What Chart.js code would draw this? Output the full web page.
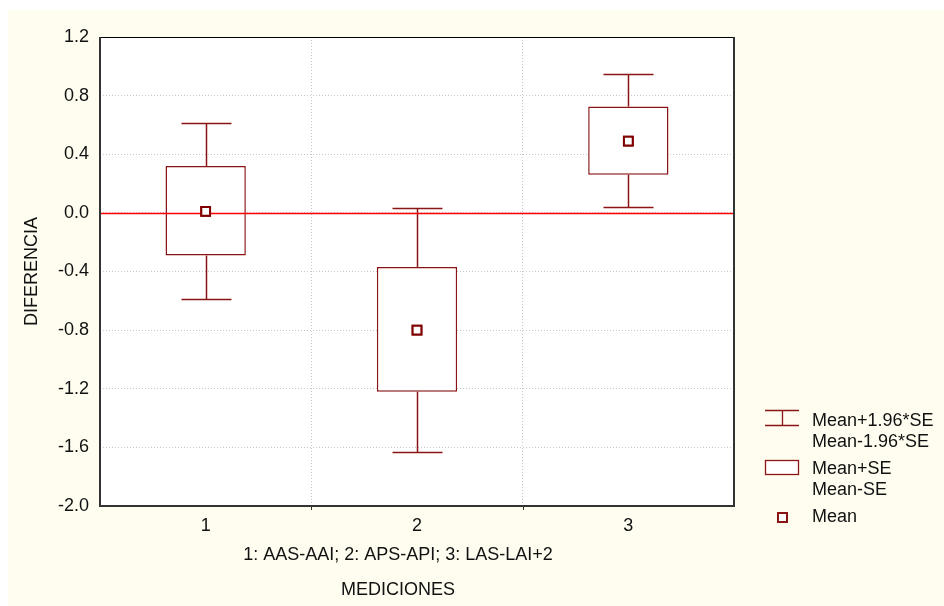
<!DOCTYPE html>
<html>
<head>
<meta charset="utf-8">
<script src="https://cdn.jsdelivr.net/npm/chart.js@4/dist/chart.umd.min.js"></script>
<style>
  html,body{margin:0;padding:0;background:#fff}
  #wrap{position:relative;width:944px;height:606px}
</style>
</head>
<body>
<div id="wrap"><canvas id="chart" width="944" height="606"></canvas></div>
<script>
// data
const categories = ['1', '2', '3'];
const means      = [0.01, -0.80, 0.49];
const seHigh     = [0.32, -0.37, 0.725];
const seLow      = [-0.29, -1.22, 0.26];
const ciHigh     = [0.61, 0.035, 0.95];
const ciLow      = [-0.585, -1.63, 0.04];
const yTicks     = [-2.0, -1.6, -1.2, -0.8, -0.4, 0.0, 0.4, 0.8, 1.2];
const legendText = [['Mean+1.96*SE', 'Mean-1.96*SE'], ['Mean+SE', 'Mean-SE'], ['Mean']];
const xTitle     = ['1: AAS-AAI; 2: APS-API; 3: LAS-LAI+2', 'MEDICIONES'];
const yTitle     = 'DIFERENCIA';

const RED = '#8b1515';
const FONT = '"Liberation Sans", Arial, sans-serif';

function zeroLine(chart) {
  const c = chart.ctx, a = chart.chartArea;
  const y0 = Math.round(chart.scales.y.getPixelForValue(0)) + 0.5;
  c.save();
  c.setLineDash([]);
  c.globalAlpha = 1;
  c.strokeStyle = '#ff0000';
  c.lineWidth = 1.5;
  c.beginPath(); c.moveTo(a.left, y0); c.lineTo(a.right, y0); c.stroke();
  c.restore();
}

const decor = {
  id: 'decor',
  beforeDraw(chart) {
    const c = chart.ctx;
    c.save();
    c.fillStyle = '#fffdf0';
    c.fillRect(8, 10, 936, 596);
    const a = chart.chartArea;
    c.fillStyle = '#fff';
    c.fillRect(a.left, a.top, a.right - a.left, a.bottom - a.top);
    c.restore();
  },
  beforeDatasetsDraw(chart) {
    // whiskers
    const c = chart.ctx, xs = chart.scales.x, ys = chart.scales.y;
    c.save();
    c.strokeStyle = RED;
    c.lineWidth = 1.5;
    categories.forEach((cat, i) => {
      const x = Math.round(xs.getPixelForValue(i)) + 0.5;
      const half = 25;
      const pts = [[ciHigh[i], seHigh[i]], [ciLow[i], seLow[i]]];
      pts.forEach(([end, start]) => {
        const ye = Math.round(ys.getPixelForValue(end)) + 0.5;
        const yb = ys.getPixelForValue(start);
        c.beginPath();
        c.moveTo(x, yb); c.lineTo(x, ye);
        c.moveTo(x - half, ye); c.lineTo(x + half, ye);
        c.stroke();
      });
    });
    c.restore();
  },
  afterDraw(chart) {
    const c = chart.ctx, a = chart.chartArea, xs = chart.scales.x;
    // zero reference line, then the means again so they sit on top
    zeroLine(chart);
    const pts = chart.getDatasetMeta(1).data;
    pts.forEach(p => p.draw(c, a));
    c.save();
    // frame
    c.strokeStyle = '#000';
    c.lineWidth = 1;
    c.strokeRect(a.left + 0.5, a.top + 0.5, a.right - a.left - 1, a.bottom - a.top - 1);
    c.strokeStyle = '#333';
    c.lineWidth = 2;
    c.beginPath();
    c.moveTo(a.left, a.top); c.lineTo(a.left, a.bottom); c.lineTo(a.right, a.bottom); c.lineTo(a.right, a.top);
    c.stroke();
    // small ticks at category boundaries
    c.lineWidth = 1;
    for (let i = 0; i < categories.length - 1; i++) {
      const xb = Math.round((xs.getPixelForValue(i) + xs.getPixelForValue(i + 1)) / 2) + 0.5;
      c.beginPath(); c.moveTo(xb, a.bottom); c.lineTo(xb, a.bottom + 4); c.stroke();
    }
    // axis titles
    c.fillStyle = '#111';
    c.font = '18px ' + FONT;
    c.textAlign = 'center';
    c.textBaseline = 'middle';
    c.fillText(xTitle[0], 398, 555);
    c.fillText(xTitle[1], 398, 590);
    c.save();
    c.translate(32, (a.top + a.bottom) / 2);
    c.rotate(-Math.PI / 2);
    c.fillText(yTitle, 0, 0);
    c.restore();
    // legend
    c.textAlign = 'left';
    c.strokeStyle = RED;
    c.lineWidth = 1.3;
    c.beginPath();
    c.moveTo(765, 410.5); c.lineTo(799, 410.5);
    c.moveTo(765, 425.5); c.lineTo(799, 425.5);
    c.moveTo(782.5, 410.5); c.lineTo(782.5, 425.5);
    c.stroke();
    c.fillStyle = '#fff';
    c.fillRect(765.5, 460.5, 33, 14);
    c.strokeRect(765.5, 460.5, 33, 14);
    c.lineWidth = 2;
    c.fillRect(778, 513, 9, 9);
    c.strokeRect(778, 513, 9, 9);
    c.fillStyle = '#111';
    c.fillText(legendText[0][0], 812, 421);
    c.fillText(legendText[0][1], 812, 442);
    c.fillText(legendText[1][0], 812, 469);
    c.fillText(legendText[1][1], 812, 490);
    c.fillText(legendText[2][0], 812, 517);
    c.restore();
  }
};

new Chart(document.getElementById('chart'), {
  type: 'bar',
  data: {
    labels: categories,
    datasets: [
      {
        type: 'bar', label: 'Mean+SE / Mean-SE', order: 2,
        data: seLow.map((lo, i) => [lo, seHigh[i]]),
        backgroundColor: '#fff', borderColor: RED, borderWidth: 1.5, borderSkipped: false,
        barPercentage: 0.38, categoryPercentage: 1
      },
      {
        type: 'line', label: 'Mean', order: 1, data: means, showLine: false,
        pointStyle: 'rect', pointRadius: 6.2, pointBorderWidth: 2,
        pointBackgroundColor: '#fff', pointBorderColor: '#800000'
      }
    ]
  },
  plugins: [decor],
  options: {
    responsive: false,
    animation: false,
    events: [],
    layout: { padding: { left: 0, right: 210, top: 37, bottom: 0 } },
    plugins: { legend: { display: false }, tooltip: { enabled: false } },
    scales: {
      x: {
        type: 'category', offset: true,
        grid: { offset: true, color: '#c8c8c8', drawTicks: false },
        border: { display: false, dash: [1, 2] },
        ticks: { color: '#111', font: { family: FONT, size: 18 }, padding: 9 },
        afterFit(s) { s.height = 100; }
      },
      y: {
        min: -2.0, max: 1.2,
        afterBuildTicks(s) { s.ticks = yTicks.map(v => ({ value: v })); },
        grid: { color: '#c8c8c8', drawTicks: false },
        border: { display: false, dash: [1, 2] },
        ticks: { color: '#111', font: { family: FONT, size: 18 }, padding: 11,
                 callback: v => Number(v).toFixed(1) },
        afterFit(s) { s.width = 100; }
      }
    }
  }
});
</script>
</body>
</html>
